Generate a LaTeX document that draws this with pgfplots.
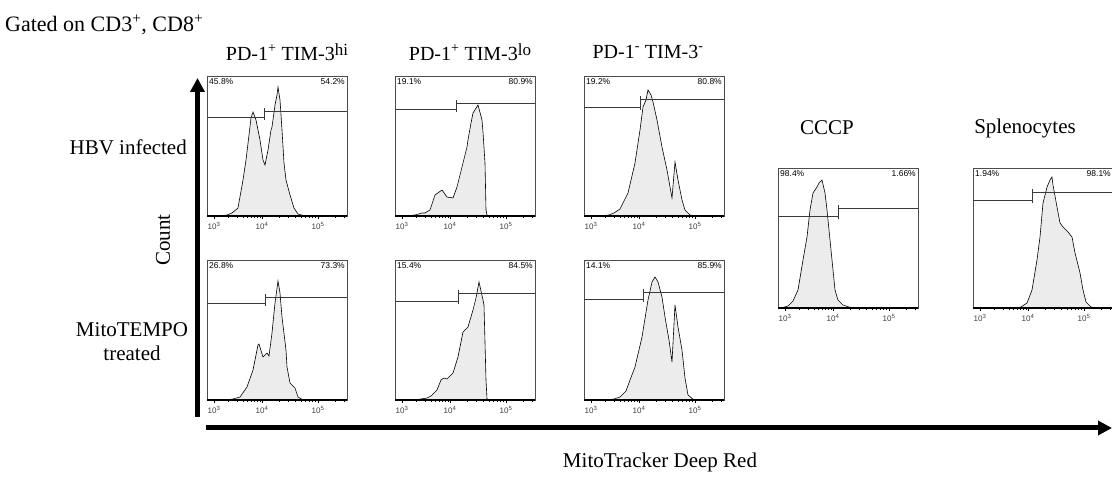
\documentclass[border=0pt]{standalone}
\usepackage{pgfplots}
\pgfplotsset{compat=1.18}
\usepackage{fontspec}
\setmainfont{Liberation Serif}
\setsansfont{Liberation Sans}
\usetikzlibrary{arrows.meta}
\newcommand{\bigtxt}{\fontsize{21}{24}\selectfont}
\newcommand{\pct}{\fontsize{8.5}{9}\selectfont\sffamily}
\pgfplotsset{
 flow/.style={
  scale only axis, width=140pt, height=140pt, anchor=north west,
  xmin=0, xmax=140, ymin=0, ymax=140,
  axis line style={draw=gray!60!black, line width=0.6pt},
  ytick=\empty,
  xtick={7,55,111},
  xticklabels={10\textsuperscript{3},10\textsuperscript{4},10\textsuperscript{5}},
  minor xtick={21.4,29.9,35.9,40.6,44.3,47.6,50.3,52.8,71.9,81.7,88.7,94.1,98.6,102.3,105.6,108.4,127.9,137.7},
  tick align=outside, xtick pos=left,
  major tick length=3pt, minor tick length=2pt,
  tick style={black, line width=0.6pt},
  xticklabel style={font=\fontsize{8}{9}\selectfont\sffamily, text=gray!50!black, inner sep=1pt, yshift=-2pt},
  clip=false,
 },
 hist/.style={fill=gray!15, draw=black, line width=0.6pt},
 gate/.style={draw=gray!45!black, line width=0.7pt},
}
\newcommand{\frameline}{\draw[black, line width=1.4pt] (rel axis cs:0,0) -- (rel axis cs:1,0);}
\newcommand{\pcts}[2]{\node[anchor=north west, font=\pct, inner sep=2pt] at (rel axis cs:0,1) {#1\%};
 \node[anchor=north east, font=\pct, inner sep=2pt] at (rel axis cs:1,1) {#2\%};}
\newcommand{\gate}[5]{% split, left y, right y, tick low, tick high
 \addplot[gate] coordinates {(0,#2) (#1,#2)};
 \addplot[gate] coordinates {(#1,#3) (140,#3)};
 \addplot[gate] coordinates {(#1,#4) (#1,#5)};}
\begin{document}
\begin{tikzpicture}
\path[use as bounding box] (0pt,0pt) rectangle (1112pt,478pt);

% texts
\node[anchor=west, font=\fontsize{22}{25}\selectfont, inner sep=0pt] at (5pt,453pt) {Gated on CD3\textsuperscript{+}, CD8\textsuperscript{+}};
\node[font=\fontsize{20}{23}\selectfont, inner sep=0pt] at (287pt,426pt) {PD-1\textsuperscript{+} TIM-3\raisebox{0.25em}{\fontsize{17}{17}\selectfont hi}};
\node[font=\fontsize{20}{23}\selectfont, inner sep=0pt] at (470pt,426pt) {PD-1\textsuperscript{+} TIM-3\raisebox{0.25em}{\fontsize{17}{17}\selectfont lo}};
\node[font=\fontsize{20}{23}\selectfont, inner sep=0pt] at (648pt,426pt) {PD-1\textsuperscript{-} TIM-3\textsuperscript{-}};
\node[anchor=east, font=\bigtxt, inner sep=0pt] at (187pt,331pt) {HBV infected};
\node[font=\bigtxt, inner sep=0pt, rotate=90] at (163pt,238pt) {Count};
\node[font=\bigtxt, inner sep=0pt, align=center] at (132pt,136pt) {MitoTEMPO\\treated};
\node[font=\bigtxt, inner sep=0pt] at (827pt,350pt) {CCCP};
\node[font=\bigtxt, inner sep=0pt] at (1025pt,350pt) {Splenocytes};
\node[font=\bigtxt, inner sep=0pt] at (660pt,16pt) {MitoTracker Deep Red};

% arrows
\draw[line width=5pt, -{Triangle[length=14pt, width=14pt]}] (197.5pt,61pt) -- (197.5pt,400pt);
\draw[line width=5pt, -{Triangle[length=14pt, width=14pt]}] (206pt,50pt) -- (1112pt,50pt);

% Row 1, panel 1
\begin{axis}[flow, at={(207pt,402pt)}]
\addplot[hist] coordinates {(12,0)(20,1)(25,3)(31,8)(36,36)(39,56)(42,81)(44,98)(46,104)(49,96)(53,76)(56,56)(58,51)(61,66)(64,86)(65,89)(68,111)(70,121)(71,129)(73,116)(75,86)(77,53)(79,36)(83,21)(87,8)(91,2)(98,0)} \closedcycle;
\gate{57}{99}{105}{96}{108}
\pcts{45.8}{54.2}
\frameline
\end{axis}
% Row 1, panel 2
\begin{axis}[flow, at={(395pt,402pt)}]
\addplot[hist] coordinates {(12,0)(20,1)(27,3)(30,3)(35,6)(40,21)(47,26)(52,19)(58,18)(62,29)(67,49)(72,69)(73,76)(76,93)(78,103)(83,111)(87,96)(88,84)(90,53)(91,6)(92,1)(96,0)} \closedcycle;
\gate{61}{107}{113}{104}{116}
\pcts{19.1}{80.9}
\frameline
\end{axis}
% Row 1, panel 3
\begin{axis}[flow, at={(584pt,402pt)}]
\addplot[hist] coordinates {(16,0)(25,1)(30,3)(36,7)(44,23)(51,53)(56,86)(59,109)(62,116)(64,126)(67,121)(69,114)(73,96)(78,69)(83,46)(88,18)(91,54)(94,36)(98,16)(101,6)(106,1)(112,0)} \closedcycle;
\gate{56}{109}{117}{106}{120}
\pcts{19.2}{80.8}
\frameline
\end{axis}
% Row 2, panel 4
\begin{axis}[flow, at={(207pt,218pt)}]
\addplot[hist] coordinates {(18,0)(26,1)(33,3)(40,13)(46,30)(51,55)(52,56)(56,43)(60,47)(62,44)(65,67)(68,97)(71,119)(73,107)(75,83)(79,50)(80,33)(83,17)(88,12)(91,3)(96,0)} \closedcycle;
\gate{58}{97}{103}{94}{106}
\pcts{26.8}{73.3}
\frameline
\end{axis}
% Row 2, panel 5
\begin{axis}[flow, at={(395pt,218pt)}]
\addplot[hist] coordinates {(18,0)(26,1)(32,2)(36,4)(42,10)(46,20)(49,22)(52,21)(55,24)(58,27)(63,43)(68,68)(73,73)(78,90)(81,102)(84,118)(88,100)(89,95)(91,20)(92,1)(95,0)} \closedcycle;
\gate{63}{99}{107}{96}{110}
\pcts{15.4}{84.5}
\frameline
\end{axis}
% Row 2, panel 6
\begin{axis}[flow, at={(584pt,218pt)}]
\addplot[hist] coordinates {(22,0)(30,1)(36,3)(42,9)(46,20)(51,33)(58,63)(64,100)(68,118)(71,123)(74,118)(78,103)(81,83)(85,60)(88,38)(91,95)(94,73)(98,50)(101,22)(104,5)(110,0)} \closedcycle;
\gate{59}{101}{108}{98}{111}
\pcts{14.1}{85.9}
\frameline
\end{axis}
% CCCP
\begin{axis}[flow, at={(778pt,310pt)}]
\addplot[hist] coordinates {(3,0)(10,2)(15,7)(20,18)(25,48)(29,71)(32,98)(35,115)(39,121)(41,125)(44,128)(47,115)(49,98)(52,68)(55,38)(57,18)(60,8)(65,3)(74,0)} \closedcycle;
\gate{60}{92}{100}{89}{103}
\pcts{98.4}{1.66}
\frameline
\end{axis}
% Splenocytes
\begin{axis}[flow, at={(973pt,310pt)}]
\addplot[hist] coordinates {(40,0)(48,1)(54,5)(59,18)(64,48)(67,71)(70,105)(74,121)(77,128)(79,131)(80,123)(84,101)(87,85)(90,81)(95,76)(99,71)(102,55)(107,35)(110,18)(113,6)(118,1)(124,0)} \closedcycle;
\gate{59}{108}{116}{105}{119}
\pcts{1.94}{98.1}
\frameline
\end{axis}
\end{tikzpicture}
\end{document}
